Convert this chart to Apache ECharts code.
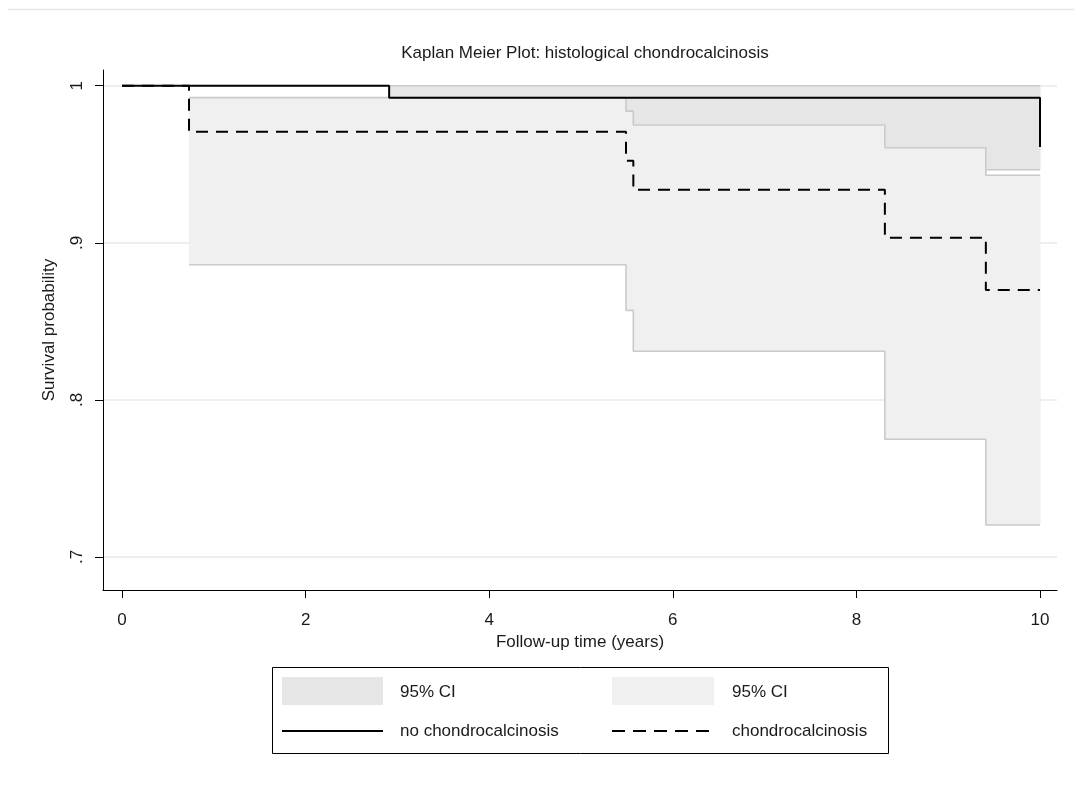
<!DOCTYPE html>
<html>
<head>
<meta charset="utf-8">
<script src="https://cdn.jsdelivr.net/npm/echarts@6/dist/echarts.min.js"></script>
<style>
html,body{margin:0;padding:0;background:#fff;}
#chart{width:1074px;height:785px;}
</style>
</head>
<body>
<div id="chart"></div>
<script>
// ---- data ----
const titleText = 'Kaplan Meier Plot: histological chondrocalcinosis';
const xTicks = [0, 2, 4, 6, 8, 10];
const yTicks = [0.7, 0.8, 0.9, 1];

// no chondrocalcinosis: KM estimate
const timesNo = [0, 2.91, 10];
const survNo  = [1, 0.9924, 0.961];
// no chondrocalcinosis: 95% CI
const ciNoTimes = [2.91, 10];
const ciNoLower = [0.9465, 0.9465];
const ciNoUpper = [1, 1];

// chondrocalcinosis: KM estimate
const timesCc = [0, 0.73, 5.49, 5.57, 8.31, 9.41, 10];
const survCc  = [1, 0.9707, 0.9522, 0.9338, 0.9032, 0.870, 0.870];
// chondrocalcinosis: 95% CI
const ciCcTimes = [0.73, 5.49, 5.57, 8.31, 9.41, 10];
const ciCcLower = [0.886, 0.857, 0.831, 0.775, 0.7204, 0.7204];
const ciCcUpper = [0.9924, 0.9838, 0.975, 0.9605, 0.943, 0.943];

// ---- helpers ----
const pairs = (xs, ys) => xs.map((x, i) => [x, ys[i]]);
const intervals = (xs, lo, hi) => xs.slice(0, -1).map((x, i) => [x, xs[i + 1], lo[i], hi[i]]);

const FONT = '"Liberation Sans", Arial, sans-serif';
const TXT = '#1a1a1a';
const DARK_FILL = '#e6e6e6';
const LIGHT_FILL = '#f0f0f0';
const OUTLINE = '#cacaca';

function band(xs, lo, hi, fill, z) {
  return {
    type: 'custom', silent: true, animation: false, z: z,
    data: intervals(xs, lo, hi),
    encode: { x: [0, 1], y: [2, 3] },
    renderItem: (params, api) => {
      const a = api.coord([api.value(0), api.value(3)]);
      const b = api.coord([api.value(1), api.value(2)]);
      return { type: 'rect',
        shape: { x: a[0], y: a[1], width: b[0] - a[0] + 0.6, height: b[1] - a[1] },
        style: { fill: fill } };
    }
  };
}
function outline(xs, ys, z) {
  return { type: 'line', step: 'end', symbol: 'none', data: pairs(xs, ys), z: z,
    lineStyle: { color: OUTLINE, width: 1.6 }, silent: true, animation: false };
}

const chart = echarts.init(document.getElementById('chart'), null, { renderer: 'canvas' });
chart.setOption({
  backgroundColor: '#fff',
  animation: false,
  title: {
    text: titleText, left: 580, top: 40, textAlign: 'center',
    textStyle: { fontFamily: FONT, fontSize: 17, fontWeight: 'normal', color: TXT }
  },
  grid: { left: 103, right: 17, top: 70, bottom: 195 },
  xAxis: {
    type: 'value', min: -0.207, max: 10.185,
    name: 'Follow-up time (years)', nameLocation: 'middle', nameGap: 44,
    nameTextStyle: { fontFamily: FONT, fontSize: 17, color: TXT },
    axisLine: { onZero: false, lineStyle: { color: '#000', width: 1 } },
    axisTick: { show: true, length: 8, customValues: xTicks, lineStyle: { color: '#000' } },
    axisLabel: { customValues: xTicks, margin: 22, fontFamily: FONT, fontSize: 17, color: TXT,
      formatter: v => String(v) },
    splitLine: { show: false }
  },
  yAxis: {
    type: 'value', min: 0.679, max: 1.01,
    name: 'Survival probability', nameLocation: 'middle', nameGap: 45,
    nameTextStyle: { fontFamily: FONT, fontSize: 17, color: TXT },
    axisLine: { onZero: false, lineStyle: { color: '#000', width: 1 } },
    axisTick: { show: true, length: 8, customValues: yTicks, lineStyle: { color: '#000' } },
    axisLabel: { customValues: yTicks, rotate: 90, margin: 17, fontFamily: FONT, fontSize: 17, color: TXT,
      formatter: v => (Math.abs(v - 1) < 1e-9 ? '1' : '.' + Math.round(v * 10)) },
    splitLine: { show: true, lineStyle: { color: '#e8e8e8', width: 1.5 } }
  },
  series: [
    band(ciNoTimes, ciNoLower, ciNoUpper, DARK_FILL, 1),
    outline(ciNoTimes, ciNoLower, 2),
    outline(ciNoTimes, ciNoUpper, 2),
    band(ciCcTimes, ciCcLower, ciCcUpper, LIGHT_FILL, 3),
    outline(ciCcTimes, ciCcLower, 4),
    outline(ciCcTimes, ciCcUpper, 4),
    { name: 'no chondrocalcinosis', type: 'line', step: 'end', symbol: 'none', z: 5,
      data: pairs(timesNo, survNo), lineStyle: { color: '#000', width: 2 } },
    { name: 'chondrocalcinosis', type: 'line', step: 'end', symbol: 'none', z: 6,
      data: pairs(timesCc, survCc), lineStyle: { color: '#000', width: 2, type: [12, 8] } }
  ],
  graphic: [
    { type: 'line', shape: { x1: 8, y1: 9.5, x2: 1074, y2: 9.5 }, style: { stroke: '#e6e6e6', lineWidth: 1.5 } },
    { type: 'rect', shape: { x: 272.5, y: 667.5, width: 616, height: 86 },
      style: { fill: '#fff', stroke: '#000', lineWidth: 1 } },
    { type: 'rect', shape: { x: 282, y: 677, width: 101, height: 28 }, style: { fill: DARK_FILL } },
    { type: 'text', x: 400, y: 692, style: { text: '95% CI', font: '17px ' + FONT, fill: TXT, verticalAlign: 'middle' } },
    { type: 'rect', shape: { x: 612, y: 677, width: 102, height: 28 }, style: { fill: LIGHT_FILL } },
    { type: 'text', x: 732, y: 692, style: { text: '95% CI', font: '17px ' + FONT, fill: TXT, verticalAlign: 'middle' } },
    { type: 'line', shape: { x1: 282, y1: 731, x2: 383, y2: 731 }, style: { stroke: '#000', lineWidth: 2 } },
    { type: 'text', x: 400, y: 731, style: { text: 'no chondrocalcinosis', font: '17px ' + FONT, fill: TXT, verticalAlign: 'middle' } },
    { type: 'line', shape: { x1: 612, y1: 731, x2: 714, y2: 731 }, style: { stroke: '#000', lineWidth: 2, lineDash: [13, 8] } },
    { type: 'text', x: 732, y: 731, style: { text: 'chondrocalcinosis', font: '17px ' + FONT, fill: TXT, verticalAlign: 'middle' } }
  ]
});
</script>
</body>
</html>
